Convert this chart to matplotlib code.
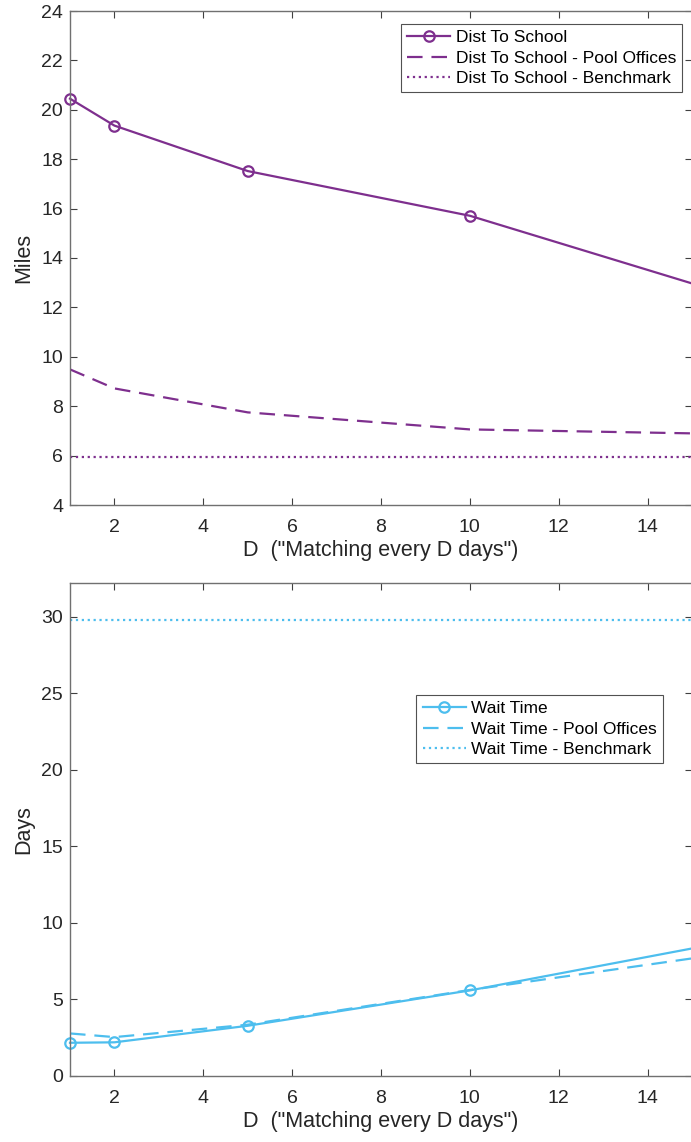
import numpy as np
import matplotlib.pyplot as plt

plt.rcParams['font.family'] = ['Liberation Sans', 'DejaVu Sans']

# ---------------------
# Data
# ---------------------
D = [1, 2, 5, 10, 15]

dist_school = [20.45, 19.36, 17.52, 15.71, 12.97]
dist_pool = [9.49, 8.72, 7.75, 7.06, 6.90]
dist_bench = [5.93, 5.93, 5.93, 5.93, 5.93]

wait_time = [2.17, 2.2, 3.28, 5.59, 8.33]
wait_pool = [2.78, 2.54, 3.35, 5.62, 7.68]
wait_bench = [29.8, 29.8, 29.8, 29.8, 29.8]

purple = (0.494, 0.184, 0.557)
blue = (0.301, 0.745, 0.933)
axis_col = '#404040'
text_col = '#262626'

W, H = 691, 1142
fig = plt.figure(figsize=(W / 100, H / 100), dpi=100)

def style_axes(ax):
    for s in ax.spines.values():
        s.set_color('#707070')
        s.set_linewidth(1.0)
    ax.tick_params(direction='in', length=5, width=0.8, colors=axis_col,
                   labelcolor=text_col, labelsize=14, top=True, right=True)
    ax.tick_params(axis='x', pad=10)
    ax.tick_params(axis='y', pad=5)
    ax.set_xlim(1, 15)
    ax.set_xticks([2, 4, 6, 8, 10, 12, 14])
    ax.set_xlabel('D  ("Matching every D days")', fontsize=15.5, color=text_col, labelpad=3)

def style_legend(leg):
    leg.get_frame().set_edgecolor(text_col)
    leg.get_frame().set_linewidth(0.8)

leg_kw = dict(fontsize=12.5, frameon=True, fancybox=False, borderpad=0.35,
              labelspacing=0.3, handlelength=2.5, handletextpad=0.3,
              borderaxespad=0, loc='upper right')

# top panel: distance
ax1 = fig.add_axes([70 / W, 1 - 505 / H, 622 / W, 494 / H])
ax1.plot(D, dist_school, '-o', color=purple, lw=1.6, ms=7.5, mfc='none', mew=1.6,
         markevery=[0, 1, 2, 3], clip_on=False, label='Dist To School')
ax1.plot(D, dist_pool, '--', color=purple, lw=1.6, dashes=(7, 4),
         label='Dist To School - Pool Offices')
ax1.plot(D, dist_bench, ':', color=purple, lw=1.6, label='Dist To School - Benchmark')
style_axes(ax1)
ax1.set_ylim(4, 24)
ax1.set_yticks(np.arange(4, 25, 2))
ax1.set_ylabel('Miles', fontsize=15.5, color=text_col, labelpad=5)
leg1 = ax1.legend(bbox_to_anchor=(612 / 622, 1 - 13 / 494), **leg_kw)
style_legend(leg1)

# bottom panel: wait time
ax2 = fig.add_axes([70 / W, 1 - 1076 / H, 622 / W, 493 / H])
ax2.plot(D, wait_time, '-o', color=blue, lw=1.6, ms=7.5, mfc='none', mew=1.6,
         markevery=[0, 1, 2, 3], clip_on=False, label='Wait Time')
ax2.plot(D, wait_pool, '--', color=blue, lw=1.6, dashes=(7, 4),
         label='Wait Time - Pool Offices')
ax2.plot(D, wait_bench, ':', color=blue, lw=1.6, label='Wait Time - Benchmark')
style_axes(ax2)
ax2.set_ylim(0, 32.2)
ax2.set_yticks([0, 5, 10, 15, 20, 25, 30])
ax2.set_ylabel('Days', fontsize=15.5, color=text_col, labelpad=5)
leg2 = ax2.legend(bbox_to_anchor=(593 / 622, 1 - 112 / 493), **leg_kw)
style_legend(leg2)

fig.savefig('out.png', dpi=100)
